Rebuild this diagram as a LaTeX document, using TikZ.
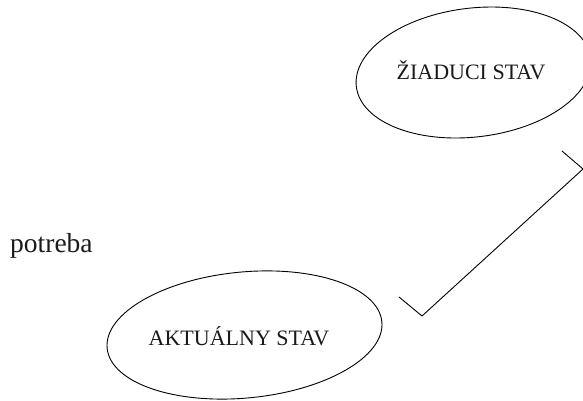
\documentclass[tikz,border=0pt]{standalone}
\usepackage{fontspec}
\setmainfont{Liberation Serif}
\definecolor{ink}{HTML}{1A1A1A}
\tikzset{
  stateoval/.style={draw=black, line width=0.9pt},
  statelabel/.style={text=ink, font=\fontsize{22}{26}\selectfont, inner sep=0pt, anchor=base},
  bracketline/.style={draw=black, line width=0.9pt, line join=miter},
}
\begin{document}
\begin{tikzpicture}[x=1pt, y=1pt]
  \useasboundingbox (0,0) rectangle (583,401);
  % desired state (top right)
  \coordinate (ziad) at (473.5,328.5);
  \draw[stateoval, rotate around={6.9:(ziad)}] (ziad) ellipse [x radius=118, y radius=64.4];
  \node[statelabel] (ziadtxt) at (471,321) {ŽIADUCI STAV};
  % actual state (bottom)
  \coordinate (akt) at (244.5,66);
  \draw[stateoval, rotate around={5.5:(akt)}] (akt) ellipse [x radius=138, y radius=63];
  \node[statelabel] (akttxt) at (239,55) {AKTUÁLNY STAV};
  % need
  \node[text=ink, font=\fontsize{27.5}{32}\selectfont, inner sep=0pt, anchor=base west] (potreba) at (10,148.5) {potreba};
  % bracket between the two states
  \coordinate (b1) at (399,104);
  \coordinate (b2) at (422,85);
  \coordinate (b3) at (583,232);
  \coordinate (b4) at (562,250);
  \draw[bracketline] (b1) -- (b2) -- (b3) -- (b4);
\end{tikzpicture}
\end{document}
